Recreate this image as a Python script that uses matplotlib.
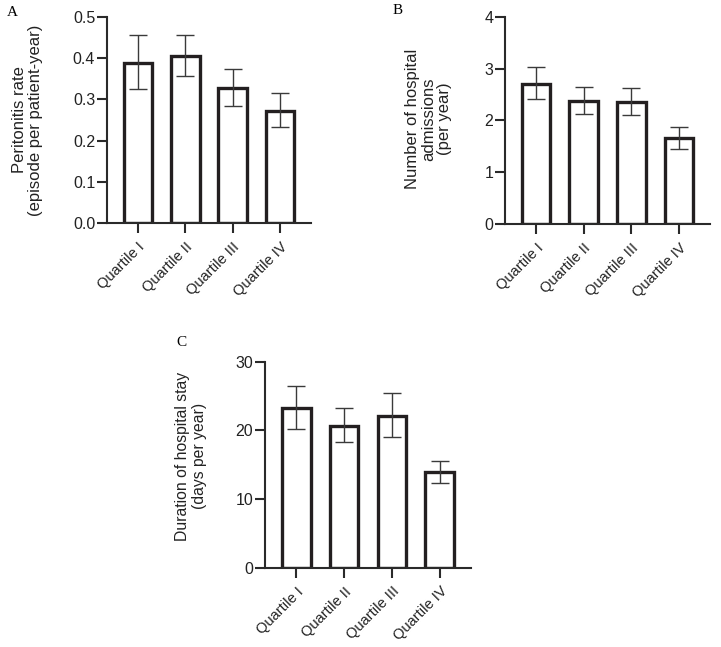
import matplotlib
matplotlib.use("Agg")
import matplotlib.pyplot as plt
import numpy as np

plt.rcParams['font.family'] = ['Liberation Sans', 'DejaVu Sans']

categories = ["Quartile I", "Quartile II", "Quartile III", "Quartile IV"]

# Panel A: peritonitis rate
a_mean = [0.389, 0.405, 0.328, 0.272]
a_low = [0.325, 0.357, 0.285, 0.232]
a_high = [0.457, 0.457, 0.375, 0.316]
a_ticks = [0.0, 0.1, 0.2, 0.3, 0.4, 0.5]
a_ticklabels = ["0.0", "0.1", "0.2", "0.3", "0.4", "0.5"]

# Panel B: hospital admissions
b_mean = [2.70, 2.37, 2.35, 1.65]
b_low = [2.42, 2.12, 2.10, 1.45]
b_high = [3.02, 2.65, 2.62, 1.87]
b_ticks = [0, 1, 2, 3, 4]

# Panel C: duration of hospital stay
c_mean = [23.2, 20.7, 22.1, 13.9]
c_low = [20.2, 18.3, 19.1, 12.3]
c_high = [26.4, 23.3, 25.5, 15.6]
c_ticks = [0, 10, 20, 30]

W, H = 721, 647
fig = plt.figure(figsize=(W / 100, H / 100), dpi=100)

BAR_EDGE = "#231f20"
ERR_COL = "#3a3a3a"
SPINE = "#2a2a2a"


def px_axes(left, right, top, bottom):
    return fig.add_axes([left / W, 1 - bottom / H, (right - left) / W, (bottom - top) / H])


def draw(ax, mean, low, high, ticks, ylim, ticklabels=None):
    x = np.arange(len(categories))
    mean = np.array(mean)
    yerr = np.vstack([mean - np.array(low), np.array(high) - mean])
    ax.bar(x, mean, width=0.6, color="white", edgecolor=BAR_EDGE, linewidth=2.4, zorder=2)
    ax.errorbar(x, mean, yerr=yerr, fmt="none", ecolor=ERR_COL, elinewidth=1.0,
                capsize=6.5, capthick=1.0, zorder=3)
    ax.set_xlim(-0.65, 3.65)
    ax.set_ylim(*ylim)
    ax.set_yticks(ticks)
    if ticklabels is not None:
        ax.set_yticklabels(ticklabels)
    ax.set_xticks(x)
    ax.set_xticklabels(categories, rotation=45, ha="right", va="top",
                       rotation_mode="anchor", fontsize=10.5)
    for s in ["top", "right"]:
        ax.spines[s].set_visible(False)
    for s in ["left", "bottom"]:
        ax.spines[s].set_linewidth(1.5)
        ax.spines[s].set_color(SPINE)
    ax.tick_params(axis="both", length=7, width=1.5, color=SPINE)
    ax.tick_params(axis="y", labelsize=11.5, pad=1.5, labelcolor="#222")
    ax.tick_params(axis="x", pad=5, labelcolor="#222")


axA = px_axes(107, 311, 17, 223)
draw(axA, a_mean, a_low, a_high, a_ticks, (0, 0.5), a_ticklabels)
axB = px_axes(505, 710, 16.7, 224)
draw(axB, b_mean, b_low, b_high, b_ticks, (0, 4))
axC = px_axes(265, 471, 361.7, 567.7)
draw(axC, c_mean, c_low, c_high, c_ticks, (0, 30))

lab_kw = dict(rotation=90, ha="center", va="center", color="#222", linespacing=1.1)
fig.text(27.5 / W, 1 - 120 / H, "Peritonitis rate\n(episode per patient-year)", fontsize=12, **lab_kw)
fig.text(428.5 / W, 1 - 119 / H, "Number of hospital\nadmissions\n(per year)", fontsize=12, **lab_kw)
fig.text(191 / W, 1 - 456 / H, "Duration of hospital stay\n(days per year)", fontsize=11.3, **lab_kw)

let_kw = dict(fontsize=11, family=["Liberation Serif", "DejaVu Serif"], ha="center", va="center")
fig.text(12 / W, 1 - 12.5 / H, "A", **let_kw)
fig.text(398 / W, 1 - 11 / H, "B", **let_kw)
fig.text(181 / W, 1 - 342 / H, "C", **let_kw)

fig.savefig("out.png", dpi=100)
